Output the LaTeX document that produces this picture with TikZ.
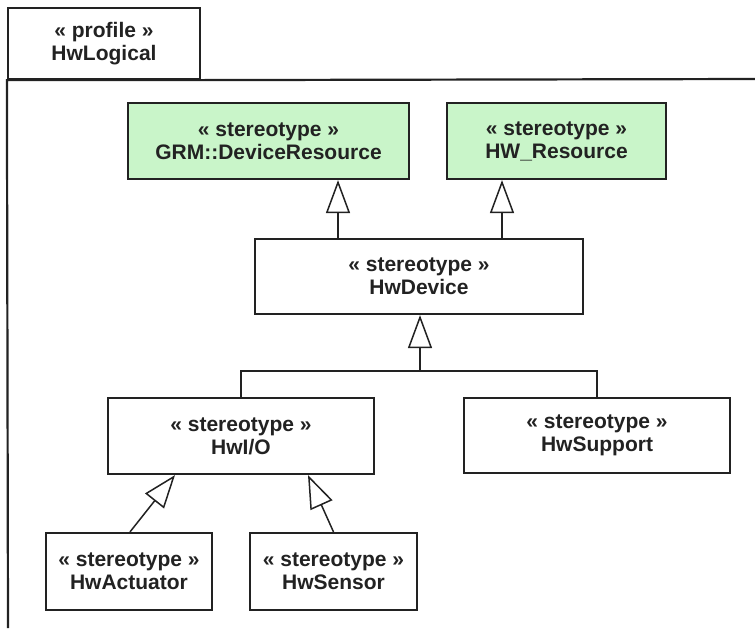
\documentclass[tikz,border=0pt]{standalone}
\usepackage{fontspec}
\setmainfont{Liberation Sans}
\usepackage{tikz}
\usetikzlibrary{arrows.meta,positioning,calc}
\definecolor{MyGreen}{HTML}{C9F5C9}
\definecolor{MyInk}{HTML}{222222}
\tikzset{
	stereo/.style={draw=MyInk, line width=1.1pt, fill=white, align=center, inner sep=0pt,
		font=\bfseries\fontsize{10.5}{11.5}\selectfont, text=MyInk},
	stereogreen/.style={stereo, fill=MyGreen},
	gen/.style={draw=MyInk, line width=0.75pt, -{Triangle[open, length=16.5pt, width=12pt, line width=0.75pt]}},
}

\begin{document}
\begin{tikzpicture}[x=0.5pt, y=-0.5pt]
			\useasboundingbox[fill=white] (0,0) rectangle (755,628);
			
			% profile frame and tab
			\node[stereo, minimum width=96pt, minimum height=35.5pt] (tab) at (104,43.5) {\guillemotleft\ profile \guillemotright\\HwLogical};
			\draw[MyInk, line width=1.1pt] (755,79) -- (tab.south east) -- (tab.south west) -- (8,628);
			
			% parent stereotypes
			\node[stereogreen, minimum width=140.5pt, minimum height=38pt] (grm) at (268.5,141) {\guillemotleft\ stereotype \guillemotright\\GRM::DeviceResource};
			\node[stereogreen, minimum width=109.5pt, minimum height=38pt] (hwres) at (556.5,141) {\guillemotleft\ stereotype \guillemotright\\HW\_Resource};
			
			% device
			\node[stereo, minimum width=164pt, minimum height=37.5pt] (dev) at (419,276.5) {\guillemotleft\ stereotype \guillemotright\\HwDevice};
			
			% children of device
			\node[stereo, minimum width=133pt, minimum height=38pt] (io) at (241,436) {\guillemotleft\ stereotype \guillemotright\\HwI/O};
			\node[stereo, minimum width=133pt, minimum height=37.5pt] (sup) at (597,435.5) {\guillemotleft\ stereotype \guillemotright\\HwSupport};
			
			% children of i/o
			\node[stereo, minimum width=83pt, minimum height=38.5pt] (act) at (129,571.5) {\guillemotleft\ stereotype \guillemotright\\HwActuator};
			\node[stereo, minimum width=83.5pt, minimum height=38.5pt] (sen) at (333.5,571.5) {\guillemotleft\ stereotype \guillemotright\\HwSensor};
			
			% generalizations
			\draw[gen] ([xshift=-40.5pt]dev.north) -- ([xshift=-40.5pt]dev.north |- grm.south);
			\draw[gen] ([xshift=41.5pt]dev.north) -- ([xshift=41.5pt]dev.north |- hwres.south);
%			
			\coordinate (fork) at (420,371);
			\draw[MyInk, line width=0.75pt] (io.north) |- (fork) -| (sup.north);
			\draw[gen] (fork) -- (fork |- dev.south);
%			
			\draw[gen] ([xshift=0.5pt]act.north) -- ([xshift=-33pt]io.south);
			\draw[gen] (sen.north) -- ([xshift=33.5pt]io.south);
		\end{tikzpicture}
\end{document}
